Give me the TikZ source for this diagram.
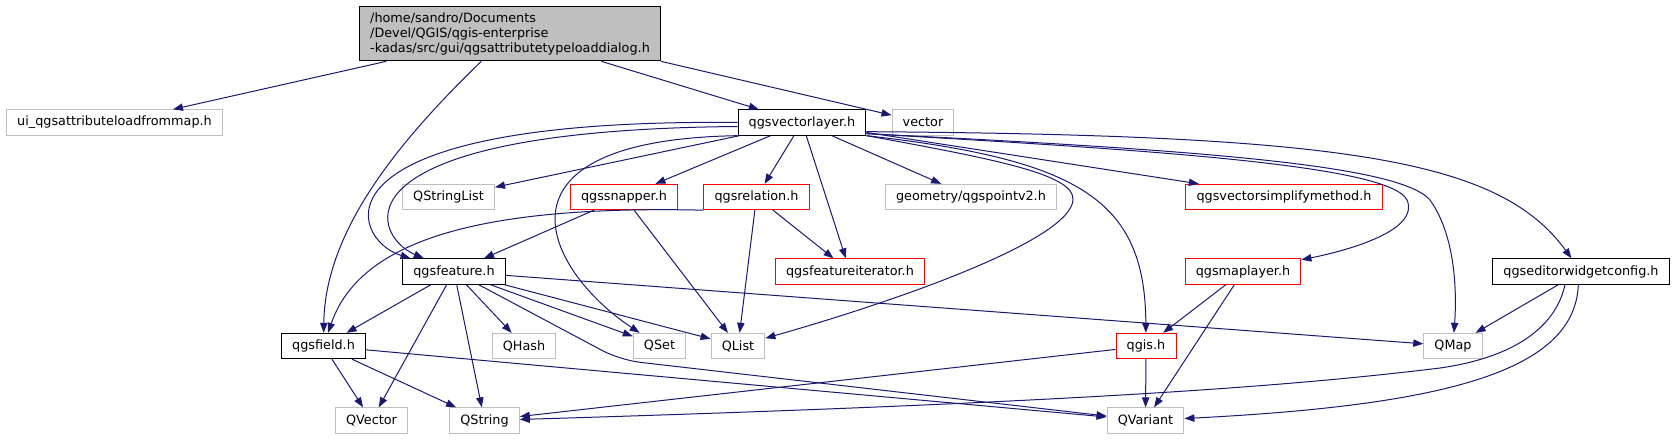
\documentclass[tikz,border=0pt]{standalone}
\usepackage{fontspec}
\setmainfont{DejaVu Sans}
\usetikzlibrary{arrows.meta}
\definecolor{edgeblue}{HTML}{191970}
\definecolor{boxgrey}{HTML}{BFBFBF}
\begin{document}
\begin{tikzpicture}[x=0.75pt,y=-0.75pt,font=\fontsize{9.6}{11.25}\selectfont,
  box/.style={draw,line width=0.75pt,inner xsep=8pt,inner ysep=0pt,minimum height=19pt,fill=white},
  leaf/.style={box,draw=boxgrey},
  trunc/.style={box,draw=red},
  full/.style={box,draw=black},
  dep/.style={draw=edgeblue,line width=0.75pt,-{Triangle[length=7.5pt,width=5.5pt]}}]
\useasboundingbox (0,0) rectangle (1675,440);
\node[full,fill=boxgrey,align=left,minimum height=41pt] (root) at (510,33.5) {/home/sandro/Documents\\/Devel/QGIS/qgis-enterprise\\-kadas/src/gui/qgsattributetypeloaddialog.h};
\node[leaf] (ui) at (114.5,122.5) {ui\_qgsattributeloadfrommap.h};
\node[full] (vlayer) at (802,122.5) {qgsvectorlayer.h};
\node[leaf] (vector) at (923,122.5) {vector};
\node[leaf] (qstringlist) at (448.5,197) {QStringList};
\node[trunc] (snapper) at (624,197) {qgssnapper.h};
\node[trunc] (relation) at (756.5,197) {qgsrelation.h};
\node[leaf] (pointv2) at (971,197) {geometry/qgspointv2.h};
\node[trunc] (simplify) at (1284,197) {qgsvectorsimplifymethod.h};
\node[full] (feature) at (454,271.5) {qgsfeature.h};
\node[trunc] (iterator) at (850,271.5) {qgsfeatureiterator.h};
\node[trunc] (maplayer) at (1243,271.5) {qgsmaplayer.h};
\node[full] (ewconfig) at (1581,271.5) {qgseditorwidgetconfig.h};
\node[full] (field) at (323.5,346) {qgsfield.h};
\node[leaf] (qhash) at (524,346) {QHash};
\node[leaf] (qset) at (659.5,346) {QSet};
\node[leaf] (qlist) at (738,346) {QList};
\node[trunc] (qgis) at (1146,346) {qgis.h};
\node[leaf] (qmap) at (1453,346) {QMap};
\node[leaf] (qvector) at (371.5,420.5) {QVector};
\node[leaf] (qstring) at (484.5,420.5) {QString};
\node[leaf] (qvariant) at (1145.5,420.5) {QVariant};

\draw[dep] (root) -- (ui);
\draw[dep] (root) -- (vlayer);
\draw[dep] (root.south east) -- (vector);
\draw[dep] (root) .. controls (400,140) and (325,230) .. (field);

\draw[dep] (vlayer.west) .. controls (300,118) and (350,240) .. (feature);
\draw[dep] ([yshift=-3pt]vlayer.west) .. controls (330,130) and (370,235) .. (feature);
\draw[dep] (vlayer) -- (qstringlist);
\draw[dep] (vlayer) -- (snapper);
\draw[dep] (vlayer) -- (relation);
\draw[dep] (vlayer) -- (iterator);
\draw[dep] (vlayer) -- (pointv2);
\draw[dep] (vlayer) -- (simplify);
\draw[dep] (vlayer.south west) .. controls (480,140) and (545,270) .. (qset);
\draw[dep] (vlayer.south east) .. controls (1000,160) and (1075,175) .. (1073,200) .. controls (1070,240) and (900,300) .. (qlist);
\draw[dep] (vlayer.south east) .. controls (1080,160) and (1145,200) .. (qgis);
\draw[dep] ([yshift=1.5pt]vlayer.south east) .. controls (1150,150) and (1390,165) .. (1407,200) .. controls (1420,230) and (1350,250) .. (maplayer);
\draw[dep] ([yshift=1.5pt]vlayer.south east) .. controls (1200,150) and (1400,165) .. (1430,200) .. controls (1455,235) and (1457,290) .. (qmap);
\draw[dep] ([yshift=3pt]vlayer.south east) .. controls (1350,135) and (1500,160) .. (ewconfig);

\draw[dep] (snapper) -- (feature);
\draw[dep] (snapper) -- (qlist);
\draw[dep] (relation.south west) .. controls (480,205) and (360,240) .. (field);
\draw[dep] (relation) -- (iterator);
\draw[dep] (relation) -- (qlist);

\draw[dep] (feature) -- (field);
\draw[dep] (feature) -- (qvector);
\draw[dep] (feature) -- (qstring);
\draw[dep] (feature) -- (qhash);
\draw[dep] (feature) -- (qset);
\draw[dep] (feature) -- (qlist);
\draw[dep] (feature) -- (qmap);
\draw[dep,rounded corners=15pt] (feature) -- (620,360) -- (qvariant);

\draw[dep] (field) -- (qvector);
\draw[dep] (field) -- (qstring);
\draw[dep] (field) -- (qvariant);

\draw[dep] (maplayer) -- (qgis);
\draw[dep] (maplayer) -- (qvariant);

\draw[dep] (ewconfig) -- (qmap);
\draw[dep] ([xshift=-12pt]ewconfig.south) .. controls (1555,330) and (1510,358) .. (1440,368) .. controls (1300,385) and (1100,402) .. (qstring);
\draw[dep] ([xshift=-2pt]ewconfig.south) .. controls (1575,370) and (1450,405) .. (qvariant);

\draw[dep] (qgis) -- (qstring);
\draw[dep] (qgis) -- (qvariant);
\end{tikzpicture}
\end{document}
